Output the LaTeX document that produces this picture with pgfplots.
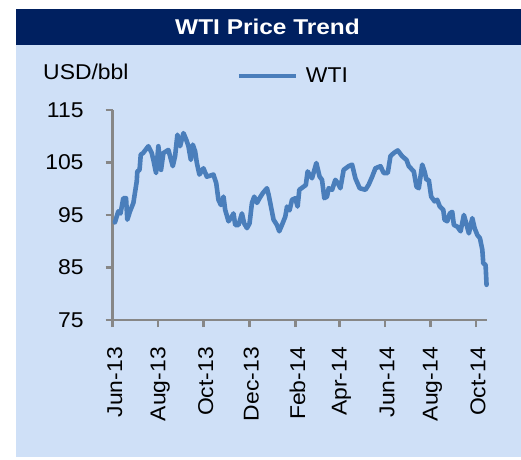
\documentclass[border=0pt]{standalone}
\usepackage{pgfplots}
\pgfplotsset{compat=1.18}
\usepackage{fontspec}
\setmainfont{Liberation Sans}[FakeStretch=1.07]
\newfontfamily\titlefont{Liberation Sans}[FakeStretch=1.14]
\definecolor{bgblue}{HTML}{CFE0F7}
\definecolor{navy}{HTML}{002060}
\definecolor{wtiblue}{HTML}{4A7EBB}
\definecolor{axgrey}{HTML}{878787}
\newcommand{\fs}{\fontsize{21.5}{25}\selectfont}
\begin{document}
\begin{tikzpicture}[font=\fs]
\useasboundingbox (0,0) rectangle (521bp,-460bp);
\fill[white] (0,0) rectangle (521bp,-460bp);
\fill[bgblue] (16bp,-9bp) rectangle (521bp,-457bp);
\fill[navy] (16bp,-9bp) rectangle (521bp,-45bp);
\node[text=white, font=\titlefont\fs\bfseries, anchor=center] at (267.5bp,-27bp) {WTI Price Trend};
\begin{axis}[
  at={(112.7bp,-320bp)}, anchor=south west,
  scale only axis, width=374.6bp, height=210bp,
  xmin=0, xmax=502, ymin=75, ymax=115,
  axis x line*=bottom, axis y line*=left,
  axis line style={draw=axgrey, line width=2.5bp},
  tick style={draw=axgrey, line width=2.5bp},
  tick align=outside, major tick length=7bp,
  xtick={0,61,122,183,245,304,365,426,487},
  xticklabels={Jun-13,Aug-13,Oct-13,Dec-13,Feb-14,Apr-14,Jun-14,Aug-14,Oct-14},
  ytick={75,85,95,105,115},
  /pgf/number format/assume math mode=true,
  tick label style={font=\fs},
  yticklabel style={anchor=east, inner sep=0pt, xshift=-22bp},
  xticklabel style={inner sep=0pt, yshift=-20bp, xshift=2bp, rotate=90, anchor=east},
  ylabel={USD/bbl},
  ylabel style={rotate=-90, at={(-0.186,1.143)}, anchor=base west, inner sep=0pt, font=\fs},
  legend style={at={(0.331,1.162)}, anchor=west, draw=none, fill=none, inner sep=0pt, outer sep=0pt, font=\fs, cells={anchor=west}, column sep=6bp},
  legend image code/.code={\draw[#1, line width=4.3bp, line cap=butt] (0bp,0bp) -- (57bp,0bp);},
  clip=false,
]
\addplot[color=wtiblue, line width=4.6bp, line join=round, line cap=round] coordinates {
(3,93.6) (7.5,95.7) (10.5,95.3) (14.2,98.2) (17.9,98.2) (19.6,94.1) (23.2,95.7) (27.7,97.3) (32.2,101.4) (33,103.3) (36,103.6) (37.6,106.5) (40.7,106.8) (47.8,108.1) (52.3,106.8) (54.5,105.5) (58.1,103.0) (61.2,108.1) (64.8,103.6) (67.9,106.8) (74.6,107.4) (80.5,104.3) (83.6,106.2) (86.7,110.3) (90.3,108.1) (94.8,110.6) (98.4,109.4) (101.5,108.1) (104.7,105.5) (107.4,108.4) (110.5,107.1) (112.8,104.9) (116.2,102.7) (121.6,103.9) (126.2,102.3) (135,102.7) (138.7,101.1) (141.7,97.9) (145,96.9) (148.5,98.5) (150.7,96) (155.2,93.8) (159.7,94.7) (161.9,95.3) (164.2,93.1) (168.6,93.1) (173.2,95.3) (176.2,93.4) (179.9,92.5) (183.4,93.4) (186.6,97.3) (189.7,98.5) (193.3,97.3) (196.8,98.2) (201.3,99.2) (206.7,100.1) (208.9,98.9) (212.1,96.6) (215.6,94.1) (220.1,93.1) (223.2,91.9) (226.8,93.1) (231.3,94.7) (233.6,96.6) (237,95.9) (240.3,97.9) (244.7,98.2) (247.8,96.6) (250.1,99.8) (255.8,100.4) (258.8,100.7) (261.2,103.3) (267.1,102) (272.9,104.9) (277.3,102.3) (280.5,101.7) (283.6,98.2) (287.2,98.5) (289.4,100.1) (294,99.8) (298.4,101.7) (301.5,101.1) (305.1,100.1) (309.5,103.6) (316.2,104.3) (320.8,104.6) (325.2,102) (331,100.1) (338.7,99.8) (343.1,100.8) (347.7,102.3) (352.1,103.9) (358.8,104.3) (363.2,103) (368.6,103) (372.2,106.2) (376.6,106.8) (382,107.3) (387.9,106.2) (393.7,105.5) (396.8,104.3) (403.5,103.3) (407.1,100.4) (410.2,100.1) (414.8,104.6) (417.9,103.3) (420.5,101.7) (423.6,101.7) (426.8,98.5) (431.3,97.6) (434.9,97.9) (438.4,96.6) (443,96) (444.7,94.1) (448.3,93.8) (451.8,95.3) (455,95.6) (457.2,93.1) (461.7,92.8) (466.2,91.9) (470.6,95) (473.8,93.4) (477.3,91.5) (481.9,94.4) (485,92.5) (488.6,91.2) (492.1,90.6) (495.3,88.4) (496.6,85.8) (499.7,85.5) (501,81.7)
};
\addlegendentry{WTI}
\end{axis}
\end{tikzpicture}
\end{document}
